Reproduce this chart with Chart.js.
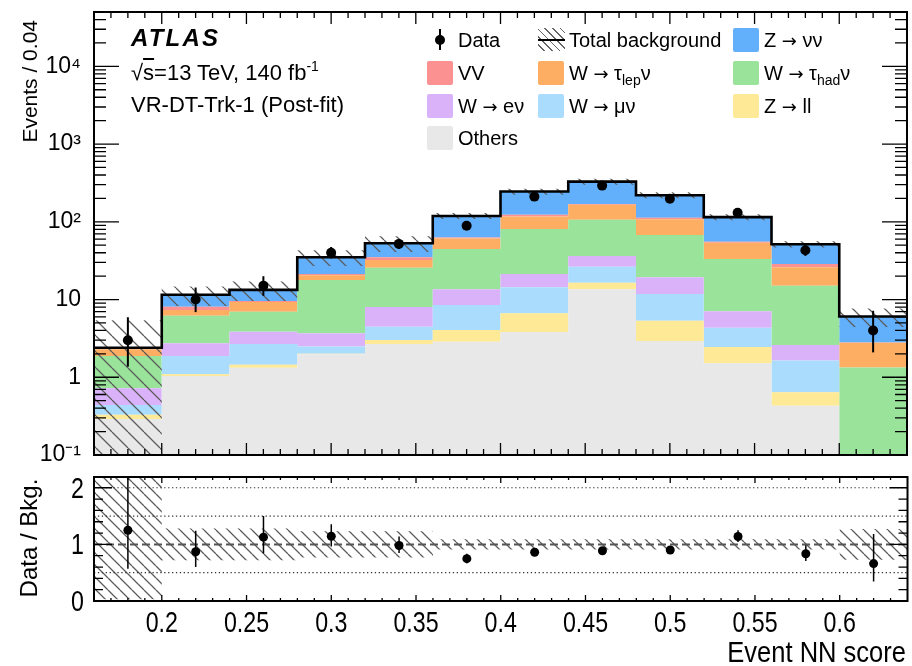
<!DOCTYPE html>
<html>
<head>
<meta charset="utf-8">
<script src="https://cdn.jsdelivr.net/npm/chart.js@4.4.1/dist/chart.umd.min.js"></script>
<style>
  html, body { margin: 0; padding: 0; background: #fff; }
  #page { position: relative; width: 912px; height: 666px; overflow: hidden;
          font-family: 'Liberation Sans', Arial, sans-serif; color: #000; }
  canvas { position: absolute; left: 0; }
  #mainCanvas { top: 0; }
  #ratioCanvas { top: 470px; }
  .txt { position: absolute; white-space: nowrap; line-height: 1; }
  .lg { font-size: 20px; }
  .box { position: absolute; width: 26px; height: 24px; border-radius: 2px; }
  .vt { transform-origin: 0 0; transform: rotate(-90deg); }
  .arr { font-family: 'DejaVu Sans', sans-serif; font-size: 18px; }
  sub { font-size: 14px; vertical-align: -5px; line-height: 0; }
  sup { font-size: 14px; vertical-align: 9px; line-height: 0; }
</style>
</head>
<body>
<div id="page">
  <canvas id="mainCanvas" width="912" height="470"></canvas>
  <canvas id="ratioCanvas" width="912" height="196"></canvas>

  <div class="txt" style="left:131px; top:26px; font-size:24px; font-weight:bold; font-style:italic; letter-spacing:2.2px">ATLAS</div>
  <div class="txt" style="left:131px; top:62px; font-size:22px">&radic;<span style="text-decoration:overline">s</span>=13 TeV, 140 fb<sup>-1</sup></div>
  <div class="txt" style="left:131px; top:94px; font-size:22px">VR-DT-Trk-1 (Post-fit)</div>

  <div class="txt vt" style="left:19px; top:222px; width:202px; text-align:right; font-size:21px">Events / 0.04</div>
  <div class="txt vt" style="left:17px; top:638px; width:200px; text-align:center; font-size:24px">Data / Bkg.</div>
  <div class="txt" style="left:0; width:906px; top:638px; text-align:right; font-size:29px; transform-origin:906px 0; transform:scaleX(0.88)">Event NN score</div>
</div>

<script>
// ── Binning and yields ──────────────────────────────────────────────────────
const binEdges = [0.16, 0.2, 0.24, 0.28, 0.32, 0.36, 0.4, 0.44, 0.48, 0.52, 0.56, 0.6, 0.64];

// post-fit background yields per bin, stacked bottom to top
const others  = [0.29, 1.04, 1.33, 1.98, 2.68, 2.87, 3.83, 13.6, 2.93, 1.51, 0.43, 0.04];
const zll     = [0.04, 0.05, 0.12, 0.02, 0.34, 1.19, 2.83, 2.9, 2.42, 0.94, 0.21, 0.01];
const wmunu   = [0.11, 0.79, 1.23, 0.48, 1.46, 4.44, 7.74, 10.0, 6.45, 1.9, 1.0, 0.01];
const wenu    = [0.28, 0.86, 1.18, 1.2, 3.52, 5.1, 6.9, 9.9, 7.6, 2.71, 0.96, 0.02];
const wtauhad = [1.16, 3.46, 3.12, 14.2, 17.7, 31.2, 59.7, 69.6, 48.4, 26.2, 12.4, 1.26];
const wtaulep = [0.42, 1.15, 2.32, 2.6, 6.6, 16.2, 36, 60, 40.2, 20.7, 11, 1.45];
const vv      = [0.02, 0.75, 0.3, 0.8, 2.7, 1.7, 6, 4, 5, 1.6, 2.7, 0.02];
const znunu   = [0.08, 3.4, 3.7, 13.7, 18.0, 56.3, 122, 159, 107, 59.4, 22.8, 3.24];

// observed events with asymmetric (Poisson) errors
const dataCounts  = [3, 10, 15, 40, 52, 89, 211, 292, 198, 131, 43, 4];
const dataErrUp   = [2.92, 4.27, 4.95, 7.38, 8.27, 10.47, 15.5, 18.1, 15.1, 12.4, 7.63, 3.16];
const dataErrDown = [1.63, 3.11, 3.82, 6.29, 7.18, 9.42, 14.5, 17.1, 14.1, 11.4, 6.53, 1.91];

// relative uncertainty on the total background
const bkgRelUp   = [1.25, 0.28, 0.28, 0.23, 0.23, 0.09, 0.09, 0.09, 0.09, 0.09, 0.09, 0.27];
const bkgRelDown = [0.97, 0.28, 0.28, 0.23, 0.23, 0.09, 0.09, 0.09, 0.09, 0.09, 0.09, 0.27];

// axis labels
const xTickValues  = [0.2, 0.25, 0.3, 0.35, 0.4, 0.45, 0.5, 0.55, 0.6];
const mainYDecades = [0.1, 1, 10, 100, 1000, 10000];
const ratioYLabels = [0, 1, 2];
const ratioGuides  = [0.5, 1.5, 2];
const ratioUnity   = 1;

const arrow = '<span class="arr">→</span>';
const processes = [
  { label: 'Others',                          values: others,  color: '#e8e8e8' },
  { label: `Z ${arrow} ll`,                   values: zll,     color: '#fee996' },
  { label: `W ${arrow} μν`,                   values: wmunu,   color: '#aadcfe' },
  { label: `W ${arrow} eν`,                   values: wenu,    color: '#dab2fa' },
  { label: `W ${arrow} τ<sub>had</sub>ν`,     values: wtauhad, color: '#99e39a' },
  { label: `W ${arrow} τ<sub>lep</sub>ν`,     values: wtaulep, color: '#fdae62' },
  { label: 'VV',                              values: vv,      color: '#fc9191' },
  { label: `Z ${arrow} νν`,                   values: znunu,   color: '#62b0fc' }
];

const legendRows = [
  ['data', 'band', 7],
  [6, 5, 4],
  [3, 2, 1],
  [0]
];

const sansFont = "'Liberation Sans', Arial, sans-serif";

// ── Derived series ──────────────────────────────────────────────────────────
const nBins = dataCounts.length;
const centers = binEdges.slice(0, -1).map((e, i) => (e + binEdges[i + 1]) / 2);

let running = new Array(nBins).fill(0);
const stackTops = processes.map(p => {
  running = running.map((v, i) => v + p.values[i]);
  return running.slice();
});
const totalBkg = running;

// one point per left bin edge, plus a closing point on the last edge
function steps(values) {
  const pts = values.map((v, i) => ({ x: binEdges[i], y: v }));
  pts.push({ x: binEdges[nBins], y: values[nBins - 1] });
  return pts;
}

function hatchPattern(step) {
  const c = document.createElement('canvas');
  c.width = c.height = step;
  const g = c.getContext('2d');
  g.strokeStyle = '#5c5c5c';
  g.lineWidth = 1.3;
  g.beginPath();
  for (let k = -1; k <= 1; k++) {
    g.moveTo(k * step, 0);
    g.lineTo(k * step + step, step);
  }
  g.stroke();
  return g.createPattern(c, 'repeat');
}

const supMap = { '-': '⁻', '0': '⁰', '1': '¹', '2': '²', '3': '³', '4': '⁴', '5': '⁵', '6': '⁶', '7': '⁷', '8': '⁸', '9': '⁹' };
function logLabel(v) {
  const e = Math.round(Math.log10(v));
  if (e === 0) return '1';
  if (e === 1) return '10';
  return '10' + String(e).split('').map(c => supMap[c]).join('');
}

// fixed axis box; no extra room reserved for end labels
function pinAxis(prop, size) {
  return s => {
    s[prop] = size;
    s.paddingTop = s.paddingBottom = s.paddingLeft = s.paddingRight = 0;
  };
}

// ── Plugins: ROOT-style frame with inward ticks, error bars, narrow labels ──
function frameTicks(xTicks, yTicks) {
  return {
    id: 'frameTicks',
    afterDraw(chart) {
      const { ctx, chartArea: a, scales: { x, y } } = chart;
      ctx.save();
      ctx.strokeStyle = '#000';
      ctx.lineWidth = 1.3;
      ctx.beginPath();
      xTicks.forEach(([v, len]) => {
        const px = x.getPixelForValue(v);
        ctx.moveTo(px, a.bottom); ctx.lineTo(px, a.bottom - len);
        ctx.moveTo(px, a.top);    ctx.lineTo(px, a.top + len);
      });
      yTicks.forEach(([v, len]) => {
        const py = y.getPixelForValue(v);
        ctx.moveTo(a.left, py);  ctx.lineTo(a.left + len, py);
        ctx.moveTo(a.right, py); ctx.lineTo(a.right - len, py);
      });
      ctx.stroke();
      ctx.lineWidth = 2;
      ctx.strokeRect(a.left, a.top, a.right - a.left, a.bottom - a.top);
      ctx.restore();
    }
  };
}

const errorBars = {
  id: 'errorBars',
  afterDatasetsDraw(chart) {
    const { ctx, chartArea: a } = chart;
    ctx.save();
    ctx.beginPath();
    ctx.rect(a.left, a.top, a.right - a.left, a.bottom - a.top);
    ctx.clip();
    chart.data.datasets.forEach((ds, i) => {
      if (!ds.errUp) return;
      const meta = chart.getDatasetMeta(i);
      const ys = chart.scales[meta.yAxisID];
      ctx.strokeStyle = '#000';
      ctx.lineWidth = ds.errWidth;
      meta.data.forEach((pt, j) => {
        const v = ds.data[j].y;
        ctx.beginPath();
        ctx.moveTo(pt.x, ys.getPixelForValue(v + ds.errUp[j]));
        ctx.lineTo(pt.x, ys.getPixelForValue(v - ds.errDown[j]));
        ctx.stroke();
      });
    });
    ctx.restore();
  }
};

// condensed tick numbers for the ratio pad
function narrowLabels(xLabels, yLabels) {
  return {
    id: 'narrowLabels',
    afterDraw(chart) {
      const { ctx, chartArea: a, scales: { x, y } } = chart;
      ctx.save();
      ctx.fillStyle = '#000';
      ctx.font = `29px ${sansFont}`;
      ctx.textBaseline = 'alphabetic';
      const put = (text, px, py, align) => {
        ctx.save();
        ctx.translate(px, py);
        ctx.scale(0.8, 1);
        ctx.textAlign = align;
        ctx.fillText(text, 0, 0);
        ctx.restore();
      };
      xLabels.forEach(v => put(String(v), x.getPixelForValue(v), a.bottom + 31, 'center'));
      yLabels.forEach(v => put(String(v), a.left - 10, y.getPixelForValue(v) + 10, 'right'));
      ctx.restore();
    }
  };
}

// tick marks: [value, length]
const xMinorMain = [], xMinorRatio = [];
for (let k = 17; k <= 63; k++) {
  if (k % 5 === 0) continue;
  xMinorMain.push([k / 100, 6]);
  xMinorRatio.push([k / 100, 3]);
}
const mainXTicks  = xTickValues.map(v => [v, 12]).concat(xMinorMain);
const ratioXTicks = xTickValues.map(v => [v, 6]).concat(xMinorRatio);

const mainYTicks = mainYDecades.map(v => [v, 25]);
mainYDecades.forEach(d => {
  for (let m = 2; m <= 9; m++) if (m * d <= 5e4) mainYTicks.push([m * d, 12]);
});
const ratioYTicks = ratioYLabels.map(v => [v, 18]);
for (let k = 1; k <= 10; k++) if (k % 5 !== 0) ratioYTicks.push([k / 5, 9]);

const noGrid = { display: false, drawTicks: false };

// ── Main panel ──────────────────────────────────────────────────────────────
const mainSets = processes.map((p, k) => ({
  label: p.label,
  data: steps(stackTops[k]),
  stepped: true,
  fill: k === 0 ? 'start' : '-1',
  backgroundColor: p.color,
  borderColor: 'transparent',
  borderWidth: 0,
  pointRadius: 0,
  order: 5
}));
mainSets.push({
  label: 'bandLow',
  data: steps(totalBkg.map((t, i) => t * (1 - bkgRelDown[i]))),
  stepped: true, fill: false,
  borderColor: 'transparent', borderWidth: 0, pointRadius: 0, order: 3
});
mainSets.push({
  label: 'Total background',
  data: steps(totalBkg.map((t, i) => t * (1 + bkgRelUp[i]))),
  stepped: true, fill: '-1',
  backgroundColor: hatchPattern(16),
  borderColor: 'transparent', borderWidth: 0, pointRadius: 0, order: 3
});
mainSets.push({
  label: 'totalLine',
  data: steps(totalBkg),
  stepped: true, fill: false,
  borderColor: '#000', borderWidth: 2.6, pointRadius: 0, order: 2
});
mainSets.push({
  label: 'Data',
  data: centers.map((x, i) => ({ x, y: dataCounts[i] })),
  showLine: false,
  pointRadius: 5, pointBackgroundColor: '#000', pointBorderWidth: 0,
  errUp: dataErrUp, errDown: dataErrDown, errWidth: 2,
  order: 1
});

new Chart(document.getElementById('mainCanvas'), {
  type: 'line',
  data: { datasets: mainSets },
  options: {
    responsive: false,
    animation: false,
    events: [],
    layout: { padding: { left: 0, right: 4, top: 12, bottom: 15 } },
    plugins: { legend: { display: false }, tooltip: { enabled: false } },
    scales: {
      x: { type: 'linear', min: 0.16, max: 0.64, display: false },
      y: {
        type: 'logarithmic', min: 0.1, max: 5e4,
        afterFit: pinAxis('width', 94),
        afterBuildTicks: s => { s.ticks = mainYDecades.map(v => ({ value: v })); },
        grid: noGrid,
        border: { display: false },
        ticks: { padding: 13, color: '#000', font: { family: sansFont, size: 23 }, callback: v => logLabel(v) }
      }
    }
  },
  plugins: [errorBars, frameTicks(mainXTicks, mainYTicks)]
});

// ── Ratio panel ─────────────────────────────────────────────────────────────
const ratioSets = [
  {
    label: 'bandLow',
    data: steps(bkgRelDown.map(r => 1 - r)),
    stepped: true, fill: false,
    borderColor: 'transparent', borderWidth: 0, pointRadius: 0, order: 4
  },
  {
    label: 'bandHigh',
    data: steps(bkgRelUp.map(r => 1 + r)),
    stepped: true, fill: '-1',
    backgroundColor: hatchPattern(12),
    borderColor: 'transparent', borderWidth: 0, pointRadius: 0, order: 4
  }
];
ratioGuides.forEach(g => ratioSets.push({
  data: [{ x: binEdges[0], y: g }, { x: binEdges[nBins], y: g }],
  borderColor: '#333', borderWidth: 1.2, borderDash: [1.3, 2.6],
  pointRadius: 0, fill: false, order: 3
}));
ratioSets.push({
  data: [{ x: binEdges[0], y: ratioUnity }, { x: binEdges[nBins], y: ratioUnity }],
  borderColor: '#555', borderWidth: 2, borderDash: [8, 4],
  pointRadius: 0, fill: false, order: 2
});
ratioSets.push({
  label: 'Data / Bkg.',
  data: centers.map((x, i) => ({ x, y: dataCounts[i] / totalBkg[i] })),
  showLine: false,
  pointRadius: 4.5, pointBackgroundColor: '#000', pointBorderWidth: 0,
  errUp: dataErrUp.map((e, i) => e / totalBkg[i]),
  errDown: dataErrDown.map((e, i) => e / totalBkg[i]),
  errWidth: 1.5,
  order: 1
});

new Chart(document.getElementById('ratioCanvas'), {
  type: 'line',
  data: { datasets: ratioSets },
  options: {
    responsive: false,
    animation: false,
    events: [],
    layout: { padding: { left: 0, right: 4, top: 7, bottom: 0 } },
    plugins: { legend: { display: false }, tooltip: { enabled: false } },
    scales: {
      x: {
        type: 'linear', min: 0.16, max: 0.64,
        afterFit: pinAxis('height', 65),
        afterBuildTicks: s => { s.ticks = xTickValues.map(v => ({ value: v })); },
        grid: noGrid,
        border: { display: false },
        ticks: { display: false }
      },
      y: {
        min: 0, max: 2.19,
        afterFit: pinAxis('width', 94),
        afterBuildTicks: s => { s.ticks = ratioYLabels.map(v => ({ value: v })); },
        grid: noGrid,
        border: { display: false },
        ticks: { display: false }
      }
    }
  },
  plugins: [errorBars, frameTicks(ratioXTicks, ratioYTicks), narrowLabels(xTickValues, ratioYLabels)]
});

// ── Legend ──────────────────────────────────────────────────────────────────
const page = document.getElementById('page');
function addEl(cls, style, html) {
  const el = document.createElement('div');
  el.className = cls;
  Object.assign(el.style, style);
  if (html) el.innerHTML = html;
  page.appendChild(el);
  return el;
}
const legendCols = [427, 538, 733];
legendRows.forEach((row, r) => {
  const top = 28 + r * 32.8;
  row.forEach((entry, c) => {
    const left = legendCols[c];
    let text;
    if (entry === 'data') {
      addEl('box', { left: (left + 12) + 'px', top: (top + 1) + 'px', width: '2px', height: '21px', background: '#000', borderRadius: '0' });
      addEl('box', { left: (left + 8) + 'px', top: (top + 7) + 'px', width: '10px', height: '10px', background: '#000', borderRadius: '50%' });
      text = 'Data';
    } else if (entry === 'band') {
      addEl('box', { left: left + 'px', top: top + 'px', width: '27px', height: '23px',
        background: 'repeating-linear-gradient(45deg, transparent 0 4.2px, #666 4.2px 5.4px)', borderRadius: '0' });
      addEl('box', { left: left + 'px', top: (top + 11) + 'px', width: '27px', height: '2px', background: '#000', borderRadius: '0' });
      text = 'Total background';
    } else {
      addEl('box', { left: left + 'px', top: top + 'px', background: processes[entry].color });
      text = processes[entry].label;
    }
    addEl('txt lg', { left: (left + 31) + 'px', top: (top + 2) + 'px' }, text);
  });
});
</script>
</body>
</html>
